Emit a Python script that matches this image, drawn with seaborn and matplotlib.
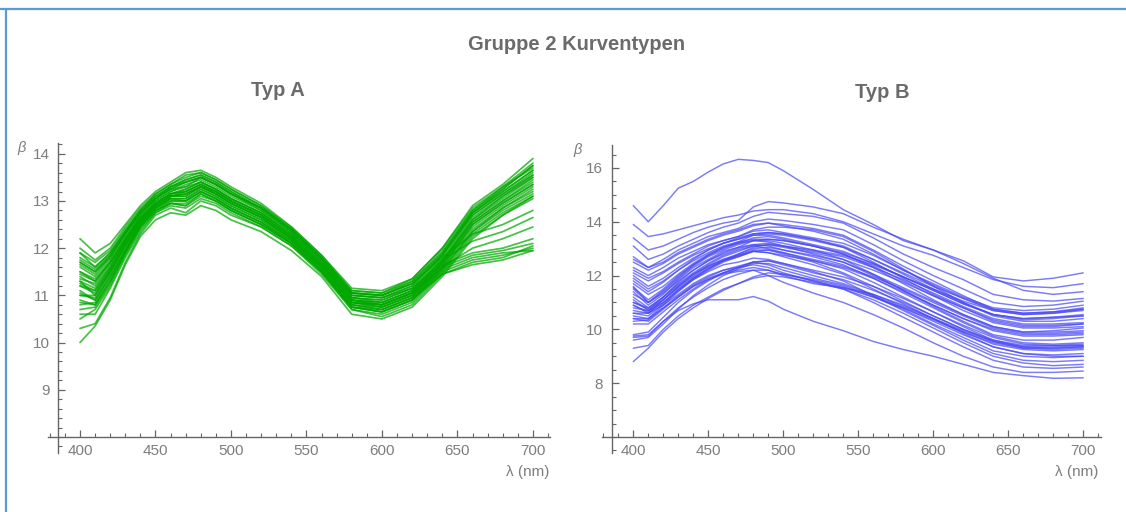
import numpy as np
import pandas as pd
import seaborn as sns
import matplotlib
matplotlib.use("Agg")
import matplotlib.pyplot as plt
from matplotlib.ticker import FixedLocator, MultipleLocator
from matplotlib.lines import Line2D

# ---------------- data ----------------
wavelengths = [400, 410, 420, 430, 440, 450, 460, 470, 480, 490, 500,
               520, 540, 560, 580, 600, 620, 640, 660, 680, 700]

# Typ A (green)
g01 = [12.2, 11.9, 12.1, 12.5, 12.9, 13.2, 13.4, 13.6, 13.65, 13.5, 13.3, 12.95, 12.45, 11.85, 11.15, 11.1, 11.35, 12.0, 12.9, 13.35, 13.9]
g02 = [11.9, 11.7, 11.95, 12.4, 12.8, 13.15, 13.35, 13.55, 13.6, 13.45, 13.25, 12.9, 12.4, 11.8, 11.1, 11.05, 11.3, 11.9, 12.8, 13.25, 13.75]
g03 = [11.7, 11.5, 11.8, 12.3, 12.75, 13.05, 13.25, 13.3, 13.5, 13.35, 13.15, 12.8, 12.35, 11.75, 11.0, 10.95, 11.2, 11.85, 12.7, 13.15, 13.6]
g04 = [11.5, 11.3, 11.7, 12.2, 12.65, 12.95, 13.15, 13.25, 13.4, 13.25, 13.05, 12.75, 12.3, 11.7, 10.95, 10.85, 11.1, 11.75, 12.6, 13.05, 13.5]
g05 = [11.3, 11.0, 11.5, 12.05, 12.55, 12.9, 13.1, 13.1, 13.3, 13.2, 13.0, 12.7, 12.25, 11.65, 10.9, 10.8, 11.05, 11.7, 12.55, 13.0, 13.4]
g06 = [11.1, 10.9, 11.4, 11.95, 12.5, 12.85, 13.05, 13.05, 13.25, 13.1, 12.9, 12.6, 12.2, 11.6, 10.85, 10.75, 11.0, 11.65, 12.45, 12.9, 13.3]
g07 = [10.9, 10.8, 11.3, 11.9, 12.45, 12.8, 13.0, 13.0, 13.2, 13.05, 12.85, 12.55, 12.15, 11.55, 10.8, 10.7, 10.95, 11.6, 12.4, 12.85, 13.25]
g08 = [10.6, 10.6, 11.15, 11.8, 12.35, 12.75, 12.95, 12.9, 13.1, 13.0, 12.8, 12.5, 12.1, 11.5, 10.75, 10.65, 10.9, 11.55, 12.35, 12.8, 13.15]
g09 = [10.3, 10.4, 10.95, 11.7, 12.3, 12.7, 12.85, 12.75, 13.0, 12.9, 12.7, 12.45, 12.05, 11.45, 10.7, 10.6, 10.85, 11.5, 12.3, 12.75, 13.1]
g10 = [10.0, 10.35, 10.9, 11.65, 12.25, 12.6, 12.75, 12.7, 12.9, 12.8, 12.6, 12.35, 11.95, 11.4, 10.6, 10.5, 10.75, 11.4, 12.2, 12.7, 13.05]
g11 = [11.6, 11.4, 11.75, 12.25, 12.7, 13.0, 13.2, 13.35, 13.45, 13.3, 13.1, 12.8, 12.35, 11.75, 11.0, 10.95, 11.15, 11.65, 11.9, 12.0, 12.2]
g12 = [11.2, 11.1, 11.55, 12.1, 12.6, 12.95, 13.15, 13.2, 13.35, 13.2, 13.0, 12.7, 12.25, 11.65, 10.9, 10.85, 11.1, 11.6, 11.85, 11.95, 12.1]
g13 = [10.8, 10.85, 11.35, 11.95, 12.5, 12.85, 13.05, 13.05, 13.25, 13.1, 12.9, 12.6, 12.15, 11.55, 10.8, 10.75, 11.0, 11.5, 11.75, 11.85, 12.0]
g14 = [11.4, 11.2, 11.6, 12.15, 12.6, 12.9, 13.1, 13.15, 13.3, 13.15, 12.95, 12.65, 12.2, 11.6, 10.85, 10.8, 11.05, 11.55, 11.8, 11.9, 11.95]
g15 = [11.0, 10.95, 11.45, 12.0, 12.55, 12.85, 13.05, 13.0, 13.2, 13.05, 12.85, 12.55, 12.1, 11.5, 10.75, 10.7, 10.95, 11.45, 11.65, 11.75, 11.95]
g16 = [11.8, 11.6, 11.9, 12.35, 12.8, 13.1, 13.3, 13.45, 13.55, 13.4, 13.2, 12.85, 12.4, 11.8, 11.05, 11.0, 11.25, 11.8, 12.3, 12.5, 12.8]
g17 = [11.5, 11.35, 11.7, 12.2, 12.7, 13.0, 13.2, 13.3, 13.4, 13.25, 13.05, 12.75, 12.3, 11.7, 10.95, 10.9, 11.15, 11.75, 12.15, 12.35, 12.65]
g18 = [11.0, 11.0, 11.5, 12.05, 12.55, 12.9, 13.1, 13.1, 13.3, 13.15, 12.95, 12.65, 12.2, 11.6, 10.85, 10.8, 11.05, 11.6, 12.0, 12.2, 12.45]
g19 = [11.3, 11.15, 11.6, 12.15, 12.65, 12.95, 13.15, 13.2, 13.35, 13.2, 13.0, 12.7, 12.25, 11.65, 10.9, 10.8, 11.05, 11.7, 12.6, 13.1, 13.55]
g20 = [11.7, 11.5, 11.85, 12.35, 12.8, 13.1, 13.3, 13.45, 13.55, 13.4, 13.2, 12.85, 12.4, 11.8, 11.05, 11.0, 11.3, 11.95, 12.8, 13.3, 13.8]
g21 = [10.5, 10.7, 11.2, 11.85, 12.4, 12.75, 12.9, 12.85, 13.05, 12.95, 12.75, 12.45, 12.05, 11.5, 10.7, 10.55, 10.8, 11.45, 12.25, 12.7, 13.1]
g22 = [11.9, 11.6, 11.9, 12.35, 12.75, 13.05, 13.25, 13.4, 13.5, 13.35, 13.15, 12.85, 12.4, 11.8, 11.05, 11.0, 11.25, 11.9, 12.75, 13.2, 13.65]
g23 = [11.2, 11.05, 11.5, 12.05, 12.55, 12.9, 13.1, 13.15, 13.3, 13.15, 12.95, 12.65, 12.2, 11.6, 10.85, 10.75, 11.0, 11.65, 12.5, 12.95, 13.35]
g24 = [12.0, 11.75, 12.0, 12.45, 12.85, 13.15, 13.35, 13.5, 13.6, 13.45, 13.25, 12.9, 12.45, 11.85, 11.1, 11.05, 11.35, 12.0, 12.85, 13.3, 13.7]
g25 = [11.35, 11.25, 11.65, 12.15, 12.6, 12.9, 13.1, 13.2, 13.35, 13.2, 13.0, 12.7, 12.25, 11.65, 10.9, 10.85, 11.1, 11.75, 12.65, 13.1, 13.5]
g26 = [10.7, 10.75, 11.25, 11.9, 12.45, 12.8, 12.95, 12.95, 13.15, 13.0, 12.8, 12.5, 12.1, 11.5, 10.75, 10.65, 10.9, 11.55, 12.35, 12.85, 13.2]
g27 = [11.65, 11.45, 11.8, 12.3, 12.75, 13.05, 13.3, 13.4, 13.5, 13.35, 13.15, 12.85, 12.35, 11.75, 11.0, 10.95, 11.2, 11.85, 12.75, 13.2, 13.65]
g28 = [11.05, 10.9, 11.4, 11.95, 12.5, 12.85, 13.0, 13.0, 13.2, 13.05, 12.85, 12.55, 12.15, 11.55, 10.8, 10.7, 10.95, 11.6, 12.5, 12.95, 13.35]
g29 = [11.45, 11.3, 11.7, 12.2, 12.65, 12.95, 13.15, 13.25, 13.4, 13.25, 13.05, 12.75, 12.3, 11.7, 10.95, 10.9, 11.15, 11.8, 12.7, 13.15, 13.55]
g30 = [10.85, 10.8, 11.3, 11.9, 12.45, 12.8, 12.95, 12.9, 13.15, 13.0, 12.8, 12.5, 12.1, 11.5, 10.75, 10.65, 10.9, 11.45, 11.7, 11.8, 12.05]
g31 = [11.75, 11.55, 11.85, 12.3, 12.75, 13.05, 13.25, 13.4, 13.5, 13.35, 13.15, 12.85, 12.4, 11.8, 11.05, 11.0, 11.25, 11.85, 12.75, 13.25, 13.75]
g32 = [11.25, 11.1, 11.55, 12.1, 12.6, 12.9, 13.1, 13.15, 13.3, 13.15, 12.95, 12.65, 12.2, 11.6, 10.85, 10.8, 11.05, 11.7, 12.55, 13.0, 13.45]

# Typ B (blue)
b01 = [14.6, 14.0, 14.6, 15.25, 15.5, 15.85, 16.15, 16.32, 16.28, 16.2, 15.9, 15.2, 14.45, 13.9, 13.3, 12.95, 12.55, 11.95, 11.8, 11.9, 12.1]
b02 = [13.9, 13.45, 13.55, 13.7, 13.85, 14.0, 14.15, 14.25, 14.4, 14.45, 14.45, 14.3, 14.0, 13.55, 13.1, 12.75, 12.3, 11.85, 11.6, 11.55, 11.7]
b03 = [13.4, 12.95, 13.1, 13.35, 13.6, 13.8, 13.95, 14.05, 14.55, 14.75, 14.7, 14.55, 14.3, 13.8, 13.35, 12.95, 12.45, 11.9, 11.45, 11.3, 11.4]
b04 = [13.1, 12.6, 12.8, 13.1, 13.35, 13.6, 13.8, 13.95, 14.2, 14.35, 14.3, 14.2, 13.95, 13.4, 12.8, 12.3, 11.85, 11.3, 11.1, 11.05, 11.15]
b05 = [12.7, 12.3, 12.6, 12.95, 13.2, 13.45, 13.6, 13.75, 14.0, 14.1, 14.05, 13.9, 13.7, 13.15, 12.55, 12.0, 11.5, 11.0, 10.85, 10.9, 11.05]
b06 = [12.5, 12.2, 12.45, 12.8, 13.05, 13.3, 13.5, 13.65, 13.85, 13.95, 13.9, 13.75, 13.5, 12.95, 12.35, 11.8, 11.25, 10.75, 10.6, 10.65, 10.8]
b07 = [12.3, 12.0, 12.3, 12.65, 12.9, 13.15, 13.3, 13.45, 13.7, 13.8, 13.8, 13.7, 13.45, 12.9, 12.25, 11.6, 11.0, 10.5, 10.3, 10.3, 10.4]
b08 = [12.1, 11.8, 12.1, 12.45, 12.75, 13.0, 13.2, 13.4, 13.55, 13.6, 13.55, 13.35, 13.05, 12.5, 11.9, 11.3, 10.8, 10.3, 10.1, 10.1, 10.2]
b09 = [11.9, 11.5, 11.8, 12.2, 12.55, 12.85, 13.1, 13.25, 13.35, 13.35, 13.3, 13.1, 12.8, 12.3, 11.7, 11.1, 10.55, 10.1, 9.9, 9.95, 10.05]
b10 = [11.6, 11.0, 11.4, 11.9, 12.35, 12.7, 12.95, 13.15, 13.3, 13.3, 13.2, 12.95, 12.6, 12.05, 11.45, 10.85, 10.3, 9.8, 9.6, 9.6, 9.7]
b11 = [11.4, 10.9, 11.3, 11.85, 12.3, 12.6, 12.9, 13.05, 13.15, 13.1, 12.95, 12.7, 12.4, 11.9, 11.35, 10.8, 10.25, 9.75, 9.5, 9.45, 9.5]
b12 = [11.2, 10.8, 11.2, 11.7, 12.1, 12.45, 12.75, 12.95, 13.1, 13.0, 12.85, 12.55, 12.25, 11.75, 11.2, 10.65, 10.1, 9.6, 9.35, 9.3, 9.35]
b13 = [11.0, 10.75, 11.1, 11.55, 11.95, 12.3, 12.55, 12.7, 12.9, 12.85, 12.7, 12.4, 12.05, 11.5, 10.95, 10.4, 9.85, 9.35, 9.1, 9.0, 9.0]
b14 = [10.8, 10.7, 11.0, 11.45, 11.85, 12.15, 12.4, 12.5, 12.65, 12.6, 12.45, 12.15, 11.8, 11.25, 10.7, 10.15, 9.6, 9.1, 8.85, 8.8, 8.85]
b15 = [10.6, 10.6, 10.9, 11.3, 11.7, 12.0, 12.2, 12.3, 12.4, 12.3, 12.1, 11.8, 11.5, 11.0, 10.45, 9.9, 9.35, 8.85, 8.6, 8.55, 8.6]
b16 = [10.4, 10.4, 10.8, 11.2, 11.6, 11.85, 12.05, 12.15, 12.2, 12.0, 11.75, 11.35, 11.0, 10.55, 10.05, 9.5, 9.0, 8.6, 8.4, 8.4, 8.45]
b17 = [9.7, 9.75, 10.3, 10.7, 10.95, 11.1, 11.1, 11.1, 11.22, 11.05, 10.75, 10.3, 9.95, 9.55, 9.25, 9.0, 8.7, 8.4, 8.28, 8.18, 8.2]
b18 = [9.3, 9.4, 10.0, 10.5, 10.9, 11.2, 11.5, 11.7, 11.9, 12.0, 11.95, 11.75, 11.5, 11.1, 10.6, 10.05, 9.5, 9.0, 8.75, 8.65, 8.7]
b19 = [8.8, 9.3, 9.9, 10.4, 10.8, 11.15, 11.45, 11.7, 11.95, 12.1, 12.05, 11.85, 11.6, 11.2, 10.75, 10.2, 9.7, 9.2, 9.0, 8.95, 9.0]
b20 = [9.75, 9.8, 10.3, 10.8, 11.2, 11.55, 11.85, 12.05, 12.2, 12.2, 12.05, 11.8, 11.55, 11.2, 10.8, 10.35, 9.9, 9.45, 9.25, 9.2, 9.25]
b21 = [9.6, 9.7, 10.2, 10.75, 11.25, 11.65, 12.0, 12.25, 12.45, 12.45, 12.3, 12.0, 11.7, 11.3, 10.85, 10.4, 9.95, 9.55, 9.35, 9.35, 9.4]
b22 = [10.5, 10.4, 10.9, 11.4, 11.85, 12.2, 12.5, 12.7, 12.9, 12.95, 12.85, 12.6, 12.35, 11.95, 11.5, 11.0, 10.5, 10.05, 9.85, 9.85, 9.9]
b23 = [10.9, 10.6, 11.1, 11.6, 12.05, 12.4, 12.7, 12.9, 13.1, 13.15, 13.05, 12.85, 12.6, 12.2, 11.75, 11.25, 10.8, 10.35, 10.15, 10.15, 10.2]
b24 = [11.1, 10.7, 11.2, 11.75, 12.2, 12.55, 12.85, 13.05, 13.3, 13.35, 13.3, 13.1, 12.85, 12.45, 11.95, 11.45, 10.95, 10.55, 10.4, 10.45, 10.5]
b25 = [11.5, 11.0, 11.45, 11.95, 12.4, 12.75, 13.05, 13.25, 13.5, 13.55, 13.5, 13.3, 13.05, 12.6, 12.1, 11.6, 11.15, 10.75, 10.6, 10.65, 10.75]
b26 = [10.7, 10.6, 11.0, 11.5, 11.9, 12.25, 12.55, 12.8, 13.05, 13.15, 13.1, 12.95, 12.75, 12.4, 11.95, 11.5, 11.05, 10.7, 10.55, 10.6, 10.7]
b27 = [11.7, 11.3, 11.6, 12.05, 12.45, 12.8, 13.05, 13.2, 13.3, 13.25, 13.1, 12.8, 12.5, 12.0, 11.45, 10.9, 10.4, 9.95, 9.75, 9.75, 9.8]
b28 = [12.2, 11.9, 12.15, 12.5, 12.8, 13.1, 13.3, 13.45, 13.65, 13.7, 13.6, 13.4, 13.2, 12.75, 12.2, 11.7, 11.2, 10.8, 10.7, 10.75, 10.9]
b29 = [10.4, 10.3, 10.75, 11.2, 11.6, 11.9, 12.1, 12.2, 12.3, 12.2, 12.0, 11.7, 11.55, 11.3, 10.9, 10.4, 9.9, 9.5, 9.3, 9.3, 9.35]
b30 = [11.0, 10.8, 11.2, 11.65, 12.05, 12.35, 12.6, 12.75, 12.9, 12.85, 12.75, 12.55, 12.3, 11.9, 11.4, 10.9, 10.4, 10.0, 9.8, 9.8, 9.85]
b31 = [10.2, 10.2, 10.65, 11.1, 11.5, 11.85, 12.1, 12.3, 12.5, 12.55, 12.45, 12.2, 11.95, 11.6, 11.15, 10.65, 10.15, 9.7, 9.45, 9.4, 9.4]
b32 = [12.0, 11.6, 11.9, 12.3, 12.65, 12.95, 13.2, 13.35, 13.5, 13.5, 13.4, 13.15, 12.9, 12.45, 11.95, 11.45, 10.95, 10.55, 10.4, 10.45, 10.55]
b33 = [10.6, 10.5, 10.95, 11.45, 11.9, 12.25, 12.55, 12.75, 12.95, 12.95, 12.8, 12.5, 12.1, 11.6, 11.05, 10.5, 10.0, 9.55, 9.3, 9.25, 9.3]
b34 = [11.3, 11.0, 11.35, 11.8, 12.2, 12.55, 12.8, 13.0, 13.15, 13.2, 13.1, 12.9, 12.7, 12.3, 11.85, 11.35, 10.85, 10.4, 10.2, 10.2, 10.25]
b35 = [10.9, 10.65, 11.1, 11.6, 12.0, 12.35, 12.6, 12.8, 13.0, 13.05, 12.95, 12.75, 12.5, 12.05, 11.55, 11.05, 10.55, 10.1, 9.9, 9.9, 9.95]
b36 = [11.8, 11.4, 11.75, 12.2, 12.6, 12.95, 13.2, 13.35, 13.55, 13.6, 13.55, 13.35, 13.1, 12.6, 12.05, 11.5, 11.0, 10.55, 10.35, 10.4, 10.5]
b37 = [10.3, 10.35, 10.8, 11.25, 11.65, 11.95, 12.2, 12.35, 12.5, 12.4, 12.2, 11.9, 11.65, 11.25, 10.8, 10.3, 9.8, 9.35, 9.1, 9.05, 9.1]
b38 = [12.6, 12.3, 12.5, 12.85, 13.1, 13.35, 13.55, 13.7, 13.9, 13.95, 13.85, 13.65, 13.35, 12.8, 12.2, 11.65, 11.15, 10.7, 10.55, 10.6, 10.75]
b39 = [9.8, 9.9, 10.45, 11.0, 11.45, 11.8, 12.1, 12.3, 12.5, 12.55, 12.4, 12.1, 11.85, 11.45, 11.0, 10.5, 10.0, 9.6, 9.4, 9.4, 9.45]
b40 = [11.55, 11.1, 11.5, 12.0, 12.4, 12.75, 13.0, 13.2, 13.4, 13.45, 13.35, 13.1, 12.8, 12.35, 11.8, 11.25, 10.7, 10.25, 10.05, 10.05, 10.1]

x_major = [400, 450, 500, 550, 600, 650, 700]
yA_major = [9, 10, 11, 12, 13, 14]
yB_major = [8, 10, 12, 14, 16]

main_title = "Gruppe 2 Kurventypen"
title_a = "Typ A"
title_b = "Typ B"
y_label = "β"
x_label = "λ (nm)"

typ_a = {"g01": g01, "g02": g02, "g03": g03, "g04": g04, "g05": g05, "g06": g06,
         "g07": g07, "g08": g08, "g09": g09, "g10": g10, "g11": g11, "g12": g12,
         "g13": g13, "g14": g14, "g15": g15, "g16": g16, "g17": g17, "g18": g18,
         "g19": g19, "g20": g20, "g21": g21, "g22": g22, "g23": g23, "g24": g24,
         "g25": g25, "g26": g26, "g27": g27, "g28": g28, "g29": g29, "g30": g30,
         "g31": g31, "g32": g32}
typ_b = {"b01": b01, "b02": b02, "b03": b03, "b04": b04, "b05": b05, "b06": b06,
         "b07": b07, "b08": b08, "b09": b09, "b10": b10, "b11": b11, "b12": b12,
         "b13": b13, "b14": b14, "b15": b15, "b16": b16, "b17": b17, "b18": b18,
         "b19": b19, "b20": b20, "b21": b21, "b22": b22, "b23": b23, "b24": b24,
         "b25": b25, "b26": b26, "b27": b27, "b28": b28, "b29": b29, "b30": b30,
         "b31": b31, "b32": b32, "b33": b33, "b34": b34, "b35": b35, "b36": b36,
         "b37": b37, "b38": b38, "b39": b39, "b40": b40}


def to_long(curves):
    rows = []
    for name, vals in curves.items():
        for w, v in zip(wavelengths, vals):
            rows.append({"wl": w, "beta": v, "curve": name})
    return pd.DataFrame(rows)


df_a = to_long(typ_a)
df_b = to_long(typ_b)

# ---------------- style ----------------
sns.set_style("white")
plt.rcParams["font.family"] = ["Liberation Sans", "DejaVu Sans"]

W, H = 1126, 512
fig = plt.figure(figsize=(W / 100, H / 100), dpi=100)


def px_rect(left, top, right, bottom):
    return [left / W, 1 - bottom / H, (right - left) / W, (bottom - top) / H]


TXT = "#7d7d7d"
AX = "#666666"

ax_a = fig.add_axes(px_rect(48.3, 143.4, 550.3, 453.0))
ax_b = fig.add_axes(px_rect(601.8, 145.1, 1100.5, 453.1))

sns.lineplot(data=df_a, x="wl", y="beta", units="curve", estimator=None,
             color="#00a800", alpha=0.72, lw=1.25, ax=ax_a, legend=False)
sns.lineplot(data=df_b, x="wl", y="beta", units="curve", estimator=None,
             color="#4848f4", alpha=0.72, lw=1.05, ax=ax_b, legend=False)


def style_axes(ax, xlim, ylim, ymajor, yminor, y_cross):
    ax.set_xlim(*xlim)
    ax.set_ylim(*ylim)
    ax.set_xlabel("")
    ax.set_ylabel("")
    for s in ("top", "right"):
        ax.spines[s].set_visible(False)
    ax.spines["left"].set_position(("data", 385.5))
    ax.spines["bottom"].set_position(("data", y_cross))
    for s in ("left", "bottom"):
        ax.spines[s].set_color(AX)
        ax.spines[s].set_linewidth(1.0)
    ax.xaxis.set_major_locator(FixedLocator(x_major))
    ax.xaxis.set_minor_locator(MultipleLocator(10))
    ax.yaxis.set_major_locator(FixedLocator(ymajor))
    ax.yaxis.set_minor_locator(MultipleLocator(yminor))
    ax.tick_params(axis="both", which="both", bottom=True, left=True,
                   top=False, right=False)
    ax.tick_params(axis="both", which="major", direction="in", length=5,
                   width=0.9, color=AX, labelcolor=TXT, labelsize=11)
    ax.tick_params(axis="x", which="major", pad=5)
    ax.tick_params(axis="y", which="major", pad=6)
    ax.tick_params(axis="both", which="minor", direction="in", length=2.6,
                   width=0.8, color=AX)
    ax.patch.set_alpha(0)


style_axes(ax_a, (379, 711.5), (7.66, 14.22), yA_major, 0.2, 8)
style_axes(ax_b, (379, 711.5), (5.4, 16.85), yB_major, 0.5, 6)

# ---------------- titles and labels ----------------
fig.text(577 / W, 1 - 44 / H, main_title, ha="center", va="center",
         fontsize=14.5, fontweight="bold", color="#6b6b6b")
fig.text(278 / W, 1 - 90 / H, title_a, ha="center", va="center",
         fontsize=14.5, fontweight="bold", color="#6b6b6b")
fig.text(882 / W, 1 - 92 / H, title_b, ha="center", va="center",
         fontsize=14.5, fontweight="bold", color="#6b6b6b")

fig.text(22 / W, 1 - 148 / H, y_label, ha="center", va="center",
         fontsize=10.5, style="italic", color=TXT)
fig.text(578 / W, 1 - 150 / H, y_label, ha="center", va="center",
         fontsize=10.5, style="italic", color=TXT)
fig.text(528 / W, 1 - 472 / H, x_label, ha="center", va="center",
         fontsize=11, color=TXT)
fig.text(1077 / W, 1 - 472 / H, x_label, ha="center", va="center",
         fontsize=11, color=TXT)

# frame lines (top and left border)
fig.add_artist(Line2D([0, 1], [1 - 8.5 / H, 1 - 8.5 / H], transform=fig.transFigure,
                      color="#5b9bd5", lw=1.6))
fig.add_artist(Line2D([6 / W, 6 / W], [0, 1 - 8.5 / H], transform=fig.transFigure,
                      color="#5b9bd5", lw=1.6))

fig.savefig("out.png", dpi=100)
